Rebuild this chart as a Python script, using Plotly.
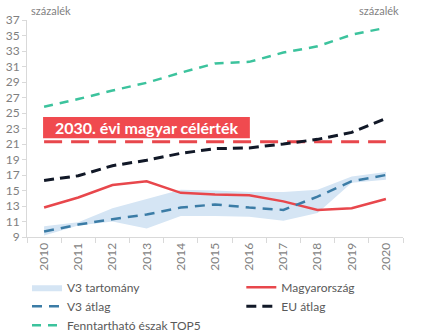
import plotly.graph_objects as go

years = ["2010", "2011", "2012", "2013", "2014", "2015", "2016", "2017", "2018", "2019", "2020"]

v3_low = [9.2, 10.5, 11.0, 10.1, 11.7, 11.7, 11.6, 11.1, 12.1, 16.0, 16.4]
v3_high = [10.4, 10.9, 12.7, 13.9, 15.1, 15.0, 14.8, 14.8, 15.1, 16.8, 17.4]
v3_avg = [9.7, 10.6, 11.3, 11.9, 12.8, 13.2, 12.8, 12.5, 14.2, 16.2, 17.0]
hungary = [12.8, 14.1, 15.7, 16.2, 14.7, 14.5, 14.4, 13.6, 12.5, 12.7, 13.9]
eu_avg = [16.3, 16.9, 18.2, 18.9, 19.8, 20.4, 20.5, 21.0, 21.6, 22.5, 24.3]
nordic_top5 = [25.8, 26.8, 27.9, 28.9, 30.2, 31.4, 31.6, 32.8, 33.6, 35.1, 36.0]
target_2030 = 21.3
target_label = "2030. évi magyar célérték"

FONT = "Lato"
GREY = "#7f7f7f"
RED = "#e8474c"

fig = go.Figure()

# V3 range as a shaded band between the lower and upper bounds
fig.add_trace(go.Scatter(x=years, y=v3_low, mode="lines", line=dict(width=0),
                         showlegend=False, hoverinfo="skip"))
fig.add_trace(go.Scatter(x=years, y=v3_high, mode="lines", line=dict(width=0),
                         fill="tonexty", fillcolor="#d5e5f4", name="V3 tartomány",
                         legend="legend"))

# 2030 target line (behind the series)
fig.add_trace(go.Scatter(x=years, y=[target_2030] * len(years), mode="lines",
                         line=dict(color=RED, width=3, dash="18px,9px"),
                         showlegend=False, hoverinfo="skip"))

fig.add_trace(go.Scatter(x=years, y=hungary, mode="lines", name="Magyarország",
                         line=dict(color=RED, width=2.5), legend="legend2"))
fig.add_trace(go.Scatter(x=years, y=v3_avg, mode="lines", name="V3 átlag",
                         line=dict(color="#3b7ca6", width=2.5, dash="10px,7px"),
                         legend="legend"))
fig.add_trace(go.Scatter(x=years, y=eu_avg, mode="lines", name="EU átlag",
                         line=dict(color="#111827", width=3, dash="10px,6px"),
                         legend="legend2"))
fig.add_trace(go.Scatter(x=years, y=nordic_top5, mode="lines", name="Fenntartható észak TOP5",
                         line=dict(color="#3cc39d", width=2.5, dash="9px,7px"),
                         legend="legend"))

# Label box for the target line
fig.add_shape(type="rect", xref="x", yref="y", x0=-0.03, x1=6.02, y0=21.75, y1=24.5,
              fillcolor="#f04a4f", line=dict(width=0), layer="above")
fig.add_annotation(x=3.0, y=23.1, xref="x", yref="y", text=f"<b>{target_label}</b>",
                   showarrow=False, font=dict(family=FONT, size=16, color="white"))

# Unit labels above both axes
fig.add_annotation(x=0.0, y=1.0, xref="paper", yref="paper", xanchor="left", yanchor="bottom",
                   yshift=1, xshift=2, text="százalék", showarrow=False,
                   font=dict(family=FONT, size=11, color=GREY))
fig.add_annotation(x=1.0, y=1.0, xref="paper", yref="paper", xanchor="right", yanchor="bottom",
                   yshift=1, xshift=-2, text="százalék", showarrow=False,
                   font=dict(family=FONT, size=11, color=GREY))

yaxis_common = dict(range=[9, 37], dtick=2, tick0=9, showgrid=False, zeroline=False,
                    showline=True, linecolor="#d9d9d9", linewidth=1,
                    ticks="outside", ticklen=4, tickcolor="#d9d9d9",
                    tickfont=dict(family=FONT, size=12, color=GREY))

legend_common = dict(orientation="v", yanchor="top", y=-0.165, itemwidth=30,
                     font=dict(family=FONT, size=12, color="#595959"),
                     traceorder="normal", tracegroupgap=0, bgcolor="rgba(0,0,0,0)")

fig.update_layout(
    width=430, height=335,
    margin=dict(l=27, r=27, t=20, b=98, autoexpand=False),
    paper_bgcolor="white", plot_bgcolor="white",
    font=dict(family=FONT, color="#595959"),
    xaxis=dict(type="category", showgrid=False, showline=True, linecolor="#d9d9d9",
               ticks="outside", tickson="boundaries", ticklen=5, tickcolor="#d9d9d9",
               tickangle=-90, tickfont=dict(family=FONT, size=12, color=GREY),
               range=[-0.5, 10.5], automargin=False),
    yaxis=dict(**yaxis_common, automargin=False),
    yaxis2=dict(**yaxis_common, overlaying="y", side="right", automargin=False),
    legend=dict(**legend_common, x=0.0, xanchor="left"),
    legend2=dict(**legend_common, x=0.57, xanchor="left"),
    showlegend=True,
)

fig.write_html("out.html")
